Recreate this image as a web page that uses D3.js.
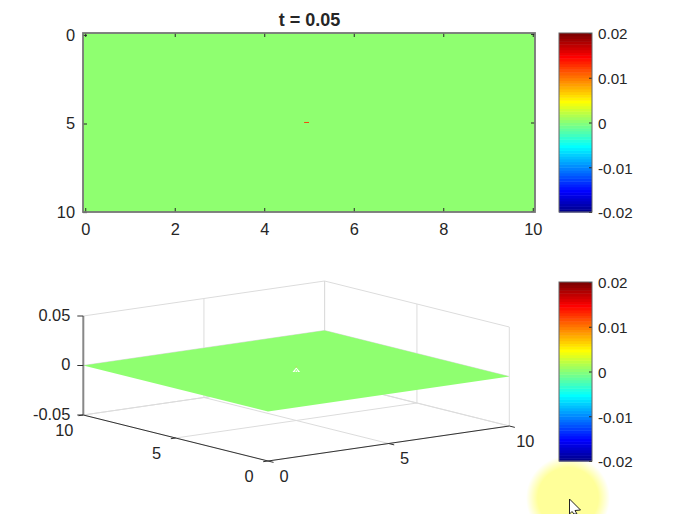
<!DOCTYPE html>
<html lang="en">
<head>
    <meta charset="UTF-8">
    <script src="https://d3js.org/d3.v7.min.js"></script>
    <title>t = 0.05</title>
    <style>
        body { margin: 0; background: #fff; }
        svg { display: block; }
        text { font-family: "Liberation Sans", Arial, sans-serif; fill: #262626; }
        .axis text { font-size: 16.4px; font-family: "Liberation Sans", Arial, sans-serif; fill: #262626; }
        .cbar text { font-size: 15.2px; }
        .axis line { stroke: #262626; stroke-width: 1; }
        .axis path { display: none; }
    </style>
</head>
<body>
<script>
    const titleText = "t = 0.05";
    const xTicks = [0, 2, 4, 6, 8, 10];
    const yTicks = [0, 5, 10];
    const ticks3d = [0, 5, 10];
    const zTicks = [-0.05, 0, 0.05];
    const cbarTicks = [-0.02, -0.01, 0, 0.01, 0.02];
    const cbarLabels = ["-0.02", "-0.01", "0", "0.01", "0.02"];
    const zLabels = ["-0.05", "0", "0.05"];

    // field at t = 0.05: flat zero except a very small disturbance at the centre
    const baseValue = 0;
    const peakValue = 0.0125;
    const peakX = [4.89, 5.0];
    const peakY = [4.97, 5.02];
    // little spike in the surface plot
    const spikeTop = 0.0036;
    const spikeFootX = [4.9, 5.1];
    const spikeFootY = [5.076, 4.924];
    const spikeFootZ = -0.001;
    const spikeStripes = [4.965, 5.035];

    const width = 683;
    const height = 514;
    const svg = d3.select("body").append("svg").attr("width", width).attr("height", height);

    // matlab jet(64)
    const jetT = d3.scaleLinear()
        .domain([0, 0.125, 0.375, 0.625, 0.875, 1])
        .range(["#000080", "#0000ff", "#00ffff", "#ffff00", "#ff0000", "#800000"]);
    const jet = d3.scaleQuantize().domain([-0.02, 0.02])
        .range(d3.range(1, 65).map(k => jetT(k / 64)));

    // cursor highlight goes under everything
    const grad = svg.append("defs").append("radialGradient").attr("id", "glow");
    grad.append("stop").attr("offset", "0.72").attr("stop-color", "#ffff99");
    grad.append("stop").attr("offset", "1").attr("stop-color", "#ffff99").attr("stop-opacity", 0);
    svg.append("circle").attr("cx", 568).attr("cy", 498).attr("r", 42).attr("fill", "url(#glow)");

    // ---- top panel, image
    const x = d3.scaleLinear().domain([-0.05, 10.05]).range([83, 535]);
    const y = d3.scaleLinear().domain([-0.05, 10.05]).range([33, 212]);

    svg.append("rect").attr("x", x(-0.05)).attr("y", y(-0.05))
        .attr("width", x(10.05) - x(-0.05)).attr("height", y(10.05) - y(-0.05))
        .attr("fill", jet(baseValue));
    svg.append("rect").attr("x", x(peakX[0])).attr("y", y(peakY[0]))
        .attr("width", x(peakX[1]) - x(peakX[0])).attr("height", y(peakY[1]) - y(peakY[0]))
        .attr("fill", jet(peakValue));

    const addAxis = (axis, tx, ty) => svg.append("g").attr("class", "axis")
        .attr("transform", `translate(${tx},${ty})`).call(axis);

    addAxis(d3.axisBottom(x).tickValues(xTicks).tickFormat(d3.format("d")).tickSizeInner(-4).tickPadding(11), 0, 212);
    addAxis(d3.axisTop(x).tickValues(xTicks).tickFormat("").tickSizeInner(-4), 0, 33);
    addAxis(d3.axisLeft(y).tickValues(yTicks).tickFormat(d3.format("d")).tickSizeInner(-4).tickPadding(8), 83, 1);
    addAxis(d3.axisRight(y).tickValues(yTicks).tickFormat("").tickSizeInner(-4), 535, 0);

    svg.append("rect").attr("x", x(-0.05)).attr("y", y(-0.05))
        .attr("width", x(10.05) - x(-0.05)).attr("height", y(10.05) - y(-0.05))
        .attr("fill", "none").attr("stroke", "#777").attr("stroke-width", 1.8);

    svg.append("text").attr("x", 309.5).attr("y", 26).attr("text-anchor", "middle")
        .attr("font-size", "18px").attr("font-weight", "bold").attr("fill", "#000").text(titleText);

    // ---- colorbars
    const drawColorbar = (top, bottom) => {
        const cy = d3.scaleLinear().domain([-0.02, 0.02]).range([bottom, top]);
        const levels = jet.range().map((c, i) => ({ c, v0: jet.invertExtent(c)[0], v1: jet.invertExtent(c)[1] }));
        svg.append("g").selectAll("rect").data(levels).join("rect")
            .attr("x", 559).attr("width", 33)
            .attr("y", d => cy(d.v1)).attr("height", d => cy(d.v0) - cy(d.v1) + 0.5)
            .attr("fill", d => d.c);
        addAxis(d3.axisRight(cy).tickValues(cbarTicks)
            .tickFormat((d, i) => cbarLabels[i]).tickSizeInner(-3).tickPadding(6), 592, 1)
            .classed("cbar", true)
            .selectAll("line").attr("transform", "translate(0,-1)");
        svg.append("rect").attr("x", 559).attr("y", top).attr("width", 33).attr("height", bottom - top)
            .attr("fill", "none").attr("stroke", "#666").attr("stroke-width", 1);
    };
    drawColorbar(33, 212);
    drawColorbar(282, 461);

    // ---- bottom panel, orthographic view of the surface
    const px = d3.scaleLinear().domain([0, 10]).range([0, 241.3]);
    const py = d3.scaleLinear().domain([0, 10]).range([0, -184.7]);
    const qx = d3.scaleLinear().domain([0, 10]).range([0, -35]);
    const qy = d3.scaleLinear().domain([0, 10]).range([0, -46]);
    const qz = d3.scaleLinear().domain([-0.05, 0.05]).range([0, -99]);
    const project = (a, b, c) => [268 + px(a) + py(b), 461 + qx(a) + qy(b) + qz(c)];
    const line3d = d3.line();
    const edge = (pts, color, w) => svg.append("path")
        .attr("d", line3d(pts.map(p => project(p[0], p[1], p[2]))))
        .attr("fill", "none").attr("stroke", color).attr("stroke-width", w);

    const zMin = zTicks[0], zMax = zTicks[2];
    const gridCol = "#dcdcdc";

    // floor grid and box
    ticks3d.forEach(t => {
        edge([[t, 0, zMin], [t, 10, zMin]], gridCol, 1);
        edge([[0, t, zMin], [10, t, zMin]], gridCol, 1);
    });
    // back walls
    ticks3d.forEach(t => {
        edge([[t, 10, zMin], [t, 10, zMax]], gridCol, 1);
        edge([[10, t, zMin], [10, t, zMax]], gridCol, 1);
    });
    zTicks.forEach(z => {
        edge([[0, 10, z], [10, 10, z], [10, 0, z]], gridCol, 1);
    });

    // surface
    svg.append("path")
        .attr("d", line3d([[0, 0], [10, 0], [10, 10], [0, 10]].map(p => project(p[0], p[1], baseValue))) + "Z")
        .attr("fill", jet(baseValue));

    // spike: white wedge with green stripes and a yellow tip
    svg.append("path")
        .attr("d", line3d([
            project(5, 5, spikeTop),
            project(spikeFootX[0], spikeFootY[0], spikeFootZ),
            project(spikeFootX[1], spikeFootY[1], spikeFootZ)
        ]) + "Z")
        .attr("fill", "#fff");
    spikeStripes.forEach(sx => {
        const sy = 5 - (sx - 5) * 0.76;
        edge([[5, 5, spikeTop * 0.5], [sx, sy, spikeFootZ]], jet(baseValue), 0.8);
    });
    edge([[5, 5, spikeTop], [5, 5, spikeTop * 1.3]], "#d8c050", 1);

    // axes
    edge([[0, 10, zMin], [0, 0, zMin], [10, 0, zMin]], "#333", 1);
    edge([[0, 10, zMin], [0, 10, zMax]], "#888", 2);

    ticks3d.forEach(t => {
        edge([[t, 0, zMin], [t, -0.3, zMin]], "#333", 1);
        edge([[0, t, zMin], [-0.2, t, zMin]], "#333", 1);
    });
    zTicks.forEach(z => {
        const p = project(0, 10, z);
        svg.append("line").attr("x1", p[0] - 6).attr("x2", p[0]).attr("y1", p[1]).attr("y2", p[1])
            .attr("stroke", "#333");
    });

    // tick labels
    const label = (p, s, anchor) => svg.append("text").attr("x", p[0]).attr("y", p[1])
        .attr("dy", "0.36em").attr("text-anchor", anchor).attr("font-size", "16.4px").text(s);

    zTicks.forEach((z, i) => {
        const p = project(0, 10, z);
        label([p[0] - 13, p[1] - 1], zLabels[i], "end");
    });
    ticks3d.forEach(t => {
        const p = project(t, 0, zMin);
        label([p[0] + 16, p[1] + 15], String(t), "middle");
        const q = project(0, t, zMin);
        label([q[0] - 19, q[1] + 15], String(t), "middle");
    });

    // mouse pointer from the screen capture
    svg.append("path")
        .attr("d", "M569.5 499 L569.5 514 L572 511.5 L574 514 L577 514 L575 510.5 L580.5 510 Z")
        .attr("fill", "#fff").attr("stroke", "#222").attr("stroke-width", 1);
</script>
</body>
</html>
